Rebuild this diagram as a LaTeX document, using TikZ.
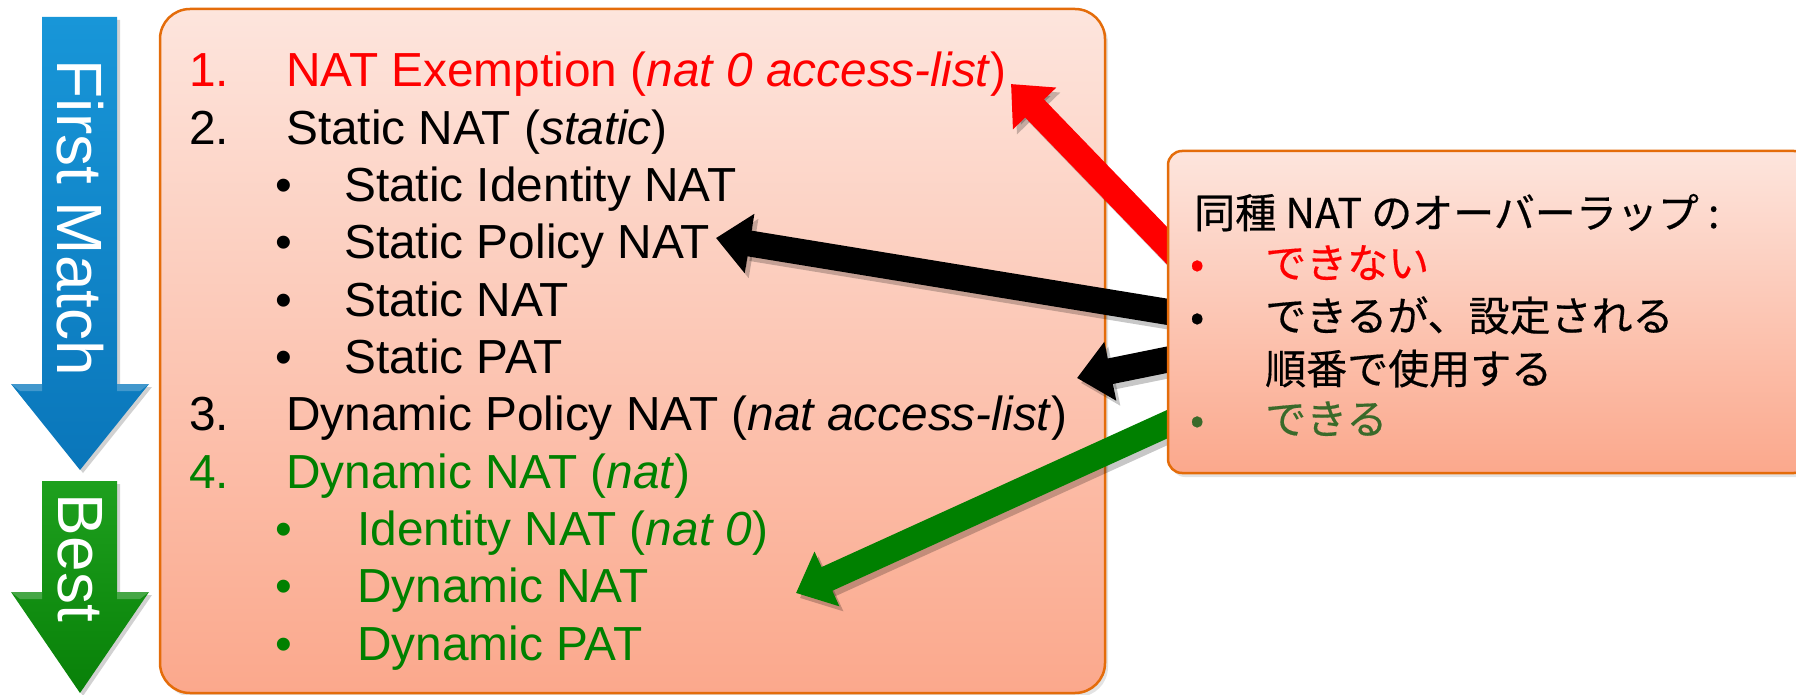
\documentclass[tikz,border=0pt]{standalone}
\usepackage{fontspec}
\setmainfont{Liberation Sans}
\newfontfamily\jpfont[FakeBold=0.4]{Noto Sans CJK JP}
\usetikzlibrary{arrows.meta,shadows,calc}

\definecolor{boxtop}{RGB}{253,229,221}
\definecolor{boxbot}{RGB}{251,168,140}
\definecolor{boxline}{RGB}{228,108,10}
\definecolor{natred}{RGB}{255,0,0}
\definecolor{natgreen}{RGB}{0,128,0}
\definecolor{okgreen}{RGB}{58,106,42}
\definecolor{flowblue}{RGB}{10,118,186}
\definecolor{flowbluelt}{RGB}{24,150,216}
\definecolor{flowgreen}{RGB}{8,128,8}
\definecolor{flowgreenlt}{RGB}{30,160,30}

\tikzset{
  panel/.style={draw=boxline, line width=2.5pt, top color=boxtop, bottom color=boxbot,
    inner sep=0pt, drop shadow={shadow xshift=3pt, shadow yshift=-4pt, opacity=0.22}},
  item/.style={inner sep=0pt, anchor=base west, font=\fontsize{47.8}{57}\selectfont},
  jtext/.style={inner sep=0pt, anchor=base west, font=\jpfont\fontsize{41}{50}\selectfont},
  conn/.style={line width=26pt, -{Triangle[length=34pt,width=58pt]}},
  flowlabel/.style={rotate=-90, text=white, inner sep=0pt, font=\fontsize{64}{64}\selectfont},
}

\begin{document}
\begin{tikzpicture}[x=1pt,y=-1pt]
\useasboundingbox (0,0) rectangle (1796,695);

% ---- order arrows on the left ----
\begin{scope}[transform canvas={shift={(3pt,-3pt)}}]
  \fill[black, opacity=0.18] (42,17) -- (117,17) -- (117,384) -- (149,384) -- (80,470) -- (11,384) -- (42,384) -- cycle;
  \fill[black, opacity=0.18] (42,481) -- (117,481) -- (117,592) -- (149,592) -- (80,693) -- (11,592) -- (42,592) -- cycle;
\end{scope}
\shade[top color=flowbluelt, bottom color=flowblue]
  (42,17) -- (117,17) -- (117,384) -- (149,384) -- (80,470) -- (11,384) -- (42,384) -- cycle;
\shade[top color=flowgreenlt, bottom color=flowgreen]
  (42,481) -- (117,481) -- (117,592) -- (149,592) -- (80,693) -- (11,592) -- (42,592) -- cycle;
% thin highlights along the top edges of the arrow heads
\fill[white, opacity=0.22] (11,384) -- (42,384) -- (42,391) -- (20,391) -- cycle;
\fill[white, opacity=0.22] (149,384) -- (117,384) -- (117,391) -- (140,391) -- cycle;
\fill[white, opacity=0.22] (11,592) -- (42,592) -- (42,599) -- (20,599) -- cycle;
\fill[white, opacity=0.22] (149,592) -- (117,592) -- (117,599) -- (140,599) -- cycle;
\node[flowlabel] (first) at (80,218) {First Match};
\node[flowlabel] (best) at (80,558) {Best};

% ---- translation order list ----
\node[panel, rounded corners=30pt, minimum width=945pt, minimum height=684pt] (list) at (632.5,351) {};

\node[item, text=natred] (n1) at (189,87) {1.};
\node[item, text=natred] (t1) at (286,87) {NAT Exemption (\textit{nat 0 access-list})};
\node[item] (n2) at (189,144.3) {2.};
\node[item] (t2) at (286,144.3) {Static NAT (\textit{static})};
\node[item] (b3) at (275,201.6) {•};
\node[item] (t3) at (344,201.6) {Static Identity NAT};
\node[item] (b4) at (275,258.9) {•};
\node[item] (t4) at (344,258.9) {Static Policy NAT};
\node[item] (b5) at (275,316.2) {•};
\node[item] (t5) at (344,316.2) {Static NAT};
\node[item] (b6) at (275,373.5) {•};
\node[item] (t6) at (344,373.5) {Static PAT};
\node[item] (n7) at (189,430.8) {3.};
\node[item] (t7) at (286,430.8) {Dynamic Policy NAT (\textit{nat access-list})};
\node[item, text=natgreen] (n8) at (189,488.1) {4.};
\node[item, text=natgreen] (t8) at (286,488.1) {Dynamic NAT (\textit{nat})};
\node[item, text=natgreen] (b9) at (275,545.4) {•};
\node[item, text=natgreen] (t9) at (357,545.4) {Identity NAT (\textit{nat 0})};
\node[item, text=natgreen] (b10) at (275,602.7) {•};
\node[item, text=natgreen] (t10) at (357,602.7) {Dynamic NAT};
\node[item, text=natgreen] (b11) at (275,660) {•};
\node[item, text=natgreen] (t11) at (357,660) {Dynamic PAT};

% ---- arrow end points ----
\coordinate (tipRed)   at (1011,84);
\coordinate (tipBlkA)  at (716,238);
\coordinate (tipBlkB)  at (1077,378);
\coordinate (tipGrn)   at (796,593);
\coordinate (srcRed)   at (1205,285);
\coordinate (srcBlkA)  at (1205,318);
\coordinate (srcBlkB)  at (1205,352);
\coordinate (srcGrn)   at (1205,407);

\begin{scope}[transform canvas={shift={(4pt,-5pt)}}]
  \draw[conn, draw=black, opacity=0.22] (srcRed) -- (tipRed);
  \draw[conn, draw=black, opacity=0.22] (srcBlkA) -- (tipBlkA);
  \draw[conn, draw=black, opacity=0.22] (srcBlkB) -- (tipBlkB);
  \draw[conn, draw=black, opacity=0.22] (srcGrn) -- (tipGrn);
\end{scope}
\draw[conn, draw=natred, fill=natred] (srcRed) -- (tipRed);
\draw[conn, draw=black, fill=black] (srcBlkA) -- (tipBlkA);
\draw[conn, draw=black, fill=black] (srcBlkB) -- (tipBlkB);
\draw[conn, draw=natgreen, fill=natgreen] (srcGrn) -- (tipGrn);

% ---- overlap note ----
\node[panel, rounded corners=14pt, minimum width=640pt, minimum height=322pt] (note) at (1488,312) {};
\node[jtext] (head) at (1194,228) {同種 NAT のオーバーラップ :};
\node[jtext, text=natred] (o1) at (1190,278) {•};
\node[jtext, text=natred] (o1t) at (1265,278) {できない};
\node[jtext] (o2) at (1190,331) {•};
\node[jtext] (o2t) at (1265,331) {できるが、設定される};
\node[jtext] (o2u) at (1265,384) {順番で使用する};
\node[jtext, text=okgreen] (o3) at (1190,434) {•};
\node[jtext, text=okgreen] (o3t) at (1265,434) {できる};
\end{tikzpicture}
\end{document}
